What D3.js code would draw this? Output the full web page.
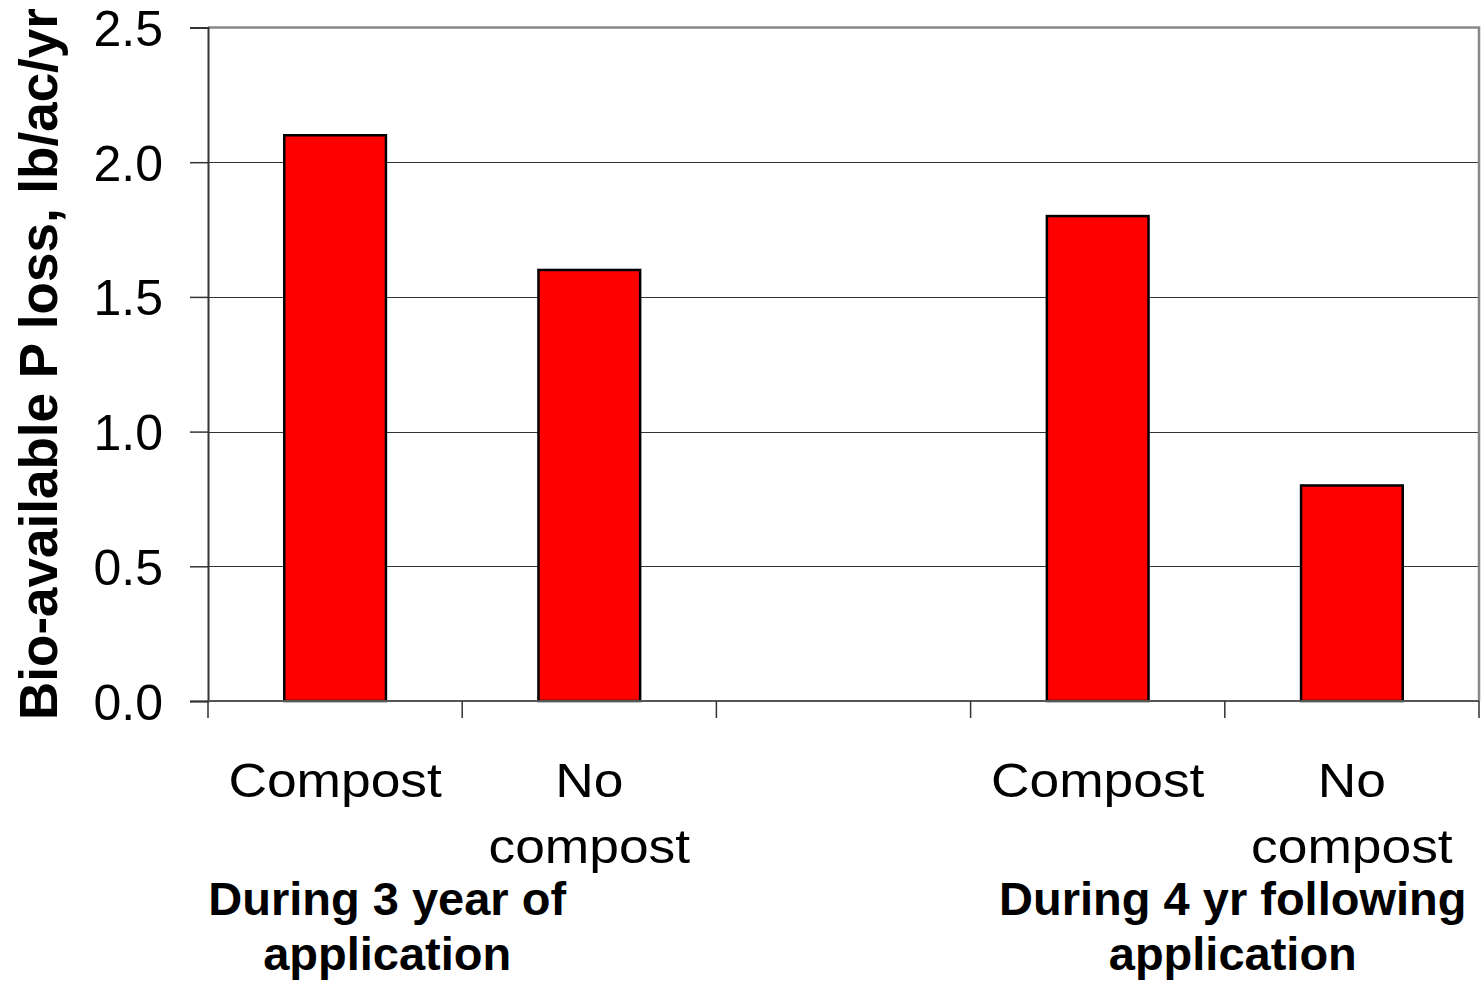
<!DOCTYPE html>
<html>
<head>
<meta charset="utf-8">
<script src="https://cdn.jsdelivr.net/npm/d3@7"></script>
<style>
  html, body { margin: 0; padding: 0; background: #fff; }
  svg { display: block; }
  text { font-family: "Liberation Sans", Arial, sans-serif; fill: #000; }
</style>
</head>
<body>
<svg id="chart" width="1481" height="981"></svg>
<script>
// Bio-available P loss by treatment (lb/ac/yr); the empty slot separates the two periods
const categories = ["Compost", "No compost", "", "Compost", "No compost"];
const values = [2.1, 1.6, null, 1.8, 0.8];
const yTicks = [0, 0.5, 1.0, 1.5, 2.0, 2.5];
const groupLabels = [
  ["During 3 year of", "application"],
  ["During 4 yr following", "application"]
];
const yTitle = "Bio-available P loss, lb/ac/yr";

const W = 1481, H = 981;
const m = { left: 208, right: 2, top: 27.5, bottom: 280 };
const plotW = W - m.left - m.right;
const plotH = H - m.top - m.bottom;

const svg = d3.select("#chart");

const x = d3.scaleBand()
  .domain(d3.range(categories.length))
  .range([m.left, m.left + plotW])
  .padding(0);

const y = d3.scaleLinear()
  .domain([0, 2.5])
  .range([m.top + plotH, m.top]);

// horizontal gridlines
svg.append("g")
  .selectAll("line")
  .data(yTicks.filter(t => t > 0 && t < 2.5))
  .join("line")
  .attr("x1", m.left).attr("x2", m.left + plotW)
  .attr("y1", d => Math.round(y(d)) + 0.5)
  .attr("y2", d => Math.round(y(d)) + 0.5)
  .attr("stroke", "#333")
  .attr("stroke-width", 1);

// plot frame: top and right edges
svg.append("path")
  .attr("d", `M${m.left},${y(2.5)}H${m.left + plotW}V${y(0)}`)
  .attr("fill", "none")
  .attr("stroke", "#888")
  .attr("stroke-width", 2.5);

// bars
const barW = x.bandwidth() * 0.4;
svg.append("g")
  .selectAll("rect")
  .data(values.map((v, i) => ({ i, v })).filter(d => d.v != null))
  .join("rect")
  .attr("x", d => x(d.i) + (x.bandwidth() - barW) / 2)
  .attr("width", barW)
  .attr("y", d => y(d.v))
  .attr("height", d => y(0) - y(d.v))
  .attr("fill", "#ff0000")
  .attr("stroke", "#000")
  .attr("stroke-width", 2.5);

// y axis
const yAxis = svg.append("g")
  .attr("transform", `translate(${m.left},0)`)
  .call(d3.axisLeft(y).tickValues(yTicks).tickFormat(d3.format(".1f")).tickSize(18).tickPadding(27));
yAxis.select(".domain").attr("stroke", "#333").attr("stroke-width", 2);
yAxis.selectAll(".tick line").attr("stroke", "#333").attr("stroke-width", 1.5);
yAxis.selectAll(".tick text")
  .style("font-family", '"Liberation Sans", Arial, sans-serif')
  .style("font-size", "50px")
  .attr("fill", "#000")
  .attr("dy", "0.36em");

// x axis (ticks at slot boundaries)
const xAxisG = svg.append("g");
xAxisG.append("line")
  .attr("x1", m.left).attr("x2", m.left + plotW)
  .attr("y1", y(0)).attr("y2", y(0))
  .attr("stroke", "#555").attr("stroke-width", 2);
const boundaries = d3.range(categories.length + 1).map(i => i < categories.length ? x(i) : x(i - 1) + x.bandwidth());
xAxisG.selectAll("line.tk")
  .data(boundaries)
  .join("line")
  .attr("class", "tk")
  .attr("x1", d => d).attr("x2", d => d)
  .attr("y1", y(0)).attr("y2", y(0) + 17)
  .attr("stroke", "#333").attr("stroke-width", 1.5);

// category labels, wrapped to the slot width (slightly wide lettering)
const catFont = 48.5, catStretch = 1.1, catLine = 66, catBaseline = 797;
categories.forEach((c, i) => {
  if (!c) return;
  const cx = x(i) + x.bandwidth() / 2;
  const t = svg.append("text")
    .attr("text-anchor", "middle")
    .attr("transform", `translate(${cx},0) scale(${catStretch},1)`)
    .style("font-size", catFont + "px");
  const words = c.split(" ");
  let lines = [], cur = [];
  const probe = svg.append("text").style("font-size", catFont + "px");
  words.forEach(w => {
    const test = cur.concat(w).join(" ");
    probe.text(test);
    if (cur.length && probe.node().getComputedTextLength() * catStretch > x.bandwidth() - 10) {
      lines.push(cur.join(" "));
      cur = [w];
    } else cur.push(w);
  });
  lines.push(cur.join(" "));
  probe.remove();
  lines.forEach((ln, k) => {
    t.append("tspan").attr("x", 0).attr("y", catBaseline + k * catLine).text(ln);
  });
});

// period labels under each pair of bars
const groupCenters = [
  (x(0) + x(1) + x.bandwidth()) / 2 - 75,
  (x(3) + x(4) + x.bandwidth()) / 2 + 8
];
groupLabels.forEach((lines, g) => {
  const t = svg.append("text")
    .attr("text-anchor", "middle")
    .style("font-size", "47px")
    .style("font-weight", "bold");
  lines.forEach((ln, k) => {
    t.append("tspan").attr("x", groupCenters[g]).attr("y", 915 + k * 55).text(ln);
  });
});

// y axis title
svg.append("text")
  .attr("transform", `translate(57, 364) rotate(-90)`)
  .attr("text-anchor", "middle")
  .style("font-size", "53px")
  .style("font-weight", "bold")
  .text(yTitle);
</script>
</body>
</html>
